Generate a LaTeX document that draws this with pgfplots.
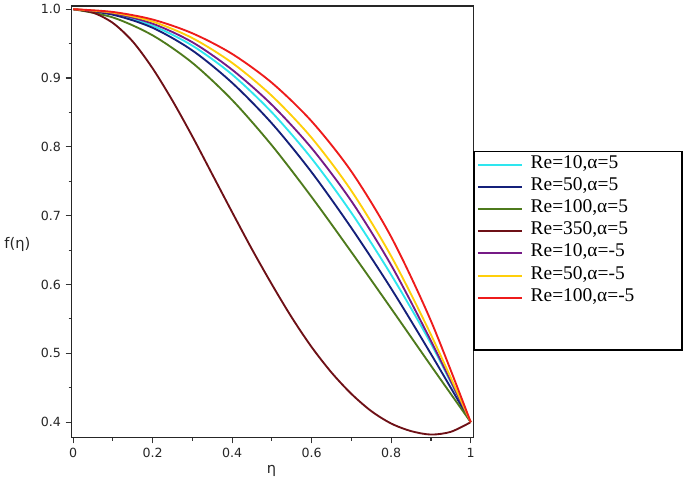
\documentclass[border=0pt]{standalone}
\usepackage{fontspec}
\setmainfont{DejaVu Sans}
\newfontfamily\legendfont{Liberation Serif}
\usepackage{pgfplots}
\usepackage{pgfplotstable}
\pgfplotsset{compat=1.18}
\definecolor{cCyan}{HTML}{2EE6EF}
\definecolor{cNavy}{HTML}{14207A}
\definecolor{cGreen}{HTML}{4E7A1C}
\definecolor{cMaroon}{HTML}{6E1016}
\definecolor{cPurple}{HTML}{761A86}
\definecolor{cYellow}{HTML}{FFCF0A}
\definecolor{cRed}{HTML}{EE1B1B}

% columns: A = alpha 5, M = alpha -5
\pgfplotstableread{
eta  reTenA  reFiftyA  reHundredA  reTenM  reFiftyM  reHundredM
0.0  1.000   1.000     1.000       1.000   1.000     1.000
0.1  0.993   0.992     0.988       0.994   0.995     0.996
0.2  0.976   0.973     0.962       0.979   0.982     0.985
0.3  0.947   0.940     0.922       0.952   0.958     0.965
0.4  0.905   0.893     0.868       0.912   0.922     0.935
0.5  0.850   0.834     0.802       0.861   0.874     0.893
0.6  0.783   0.763     0.727       0.798   0.813     0.837
0.7  0.704   0.682     0.647       0.721   0.736     0.764
0.8  0.614   0.594     0.565       0.628   0.641     0.669
0.9  0.514   0.499     0.482       0.518   0.527     0.547
1.0  0.400   0.400     0.400       0.400   0.400     0.400
}\tabsix

\pgfplotstableread{
eta   f
0.00  1.000
0.05  0.995
0.10  0.980
0.15  0.953
0.20  0.914
0.25  0.867
0.30  0.815
0.35  0.760
0.40  0.705
0.45  0.651
0.50  0.600
0.55  0.552
0.60  0.509
0.65  0.472
0.70  0.441
0.75  0.416
0.80  0.398
0.85  0.387
0.90  0.382
0.95  0.386
1.00  0.400
}\tabmaroon

\begin{document}
\begin{tikzpicture}
\begin{axis}[
  scale only axis,
  width=302.6pt, height=324.75pt,
  xmin=-0.0038, xmax=1.0075,
  ymin=0.3778, ymax=1.0048,
  clip=false,
  axis line style={line width=1.1pt, black!85},
  tick align=outside,
  xtick pos=bottom, ytick pos=left,
  xtick={0,0.2,0.4,0.6,0.8,1},
  xticklabels={0,0.2,0.4,0.6,0.8,1},
  minor xtick={0.1,0.3,0.5,0.7,0.9},
  ytick={0.4,0.5,0.6,0.7,0.8,0.9,1.0},
  yticklabels={0.4,0.5,0.6,0.7,0.8,0.9,1.0},
  minor ytick={0.45,0.55,0.65,0.75,0.85,0.95},
  major tick length=4.5pt, minor tick length=2.3pt,
  tick style={line width=0.8pt, black!80},
  tick label style={font=\fontsize{9.5}{11}\selectfont, text=black!85},
  legend style={draw=none, fill=none, inner sep=0pt,
    at={(1.0075,0.6585)}, anchor=north west,
    row sep=0pt, column sep=6pt,
    font=\legendfont\fontsize{14.6}{17}\selectfont,
    nodes={inner sep=0pt, text height=11pt, text depth=5.7pt}},
  legend cell align=left,
  legend image code/.code={\draw[#1, line width=1.4pt] (0pt,0pt) -- (33pt,0pt);},
  every axis plot/.append style={line width=1.4pt, smooth},
]
\addplot[cCyan] table[x=eta, y=reTenA] {\tabsix};
\addlegendentry{Re=10,α=5}
\addplot[cNavy] table[x=eta, y=reFiftyA] {\tabsix};
\addlegendentry{Re=50,α=5}
\addplot[cGreen] table[x=eta, y=reHundredA] {\tabsix};
\addlegendentry{Re=100,α=5}
\addplot[cMaroon] table[x=eta, y=f] {\tabmaroon};
\addlegendentry{Re=350,α=5}
\addplot[cPurple] table[x=eta, y=reTenM] {\tabsix};
\addlegendentry{Re=10,α=-5}
\addplot[cYellow] table[x=eta, y=reFiftyM] {\tabsix};
\addlegendentry{Re=50,α=-5}
\addplot[cRed] table[x=eta, y=reHundredM] {\tabsix};
\addlegendentry{Re=100,α=-5}

\draw[line width=1.2pt, black] (rel axis cs:1,0.663) rectangle (rel axis cs:1.518,0.203);
\node[font=\fontsize{11}{13}\selectfont, text=black!85] at (rel axis cs:-0.135,0.448) {f(η)};
\node[font=\fontsize{11}{13}\selectfont, text=black!85] at (rel axis cs:0.497,-0.078) {η};
\path (rel axis cs:-0.1722,1.00924) rectangle (rel axis cs:1.5254,-0.10624);
\end{axis}
\end{tikzpicture}
\end{document}
